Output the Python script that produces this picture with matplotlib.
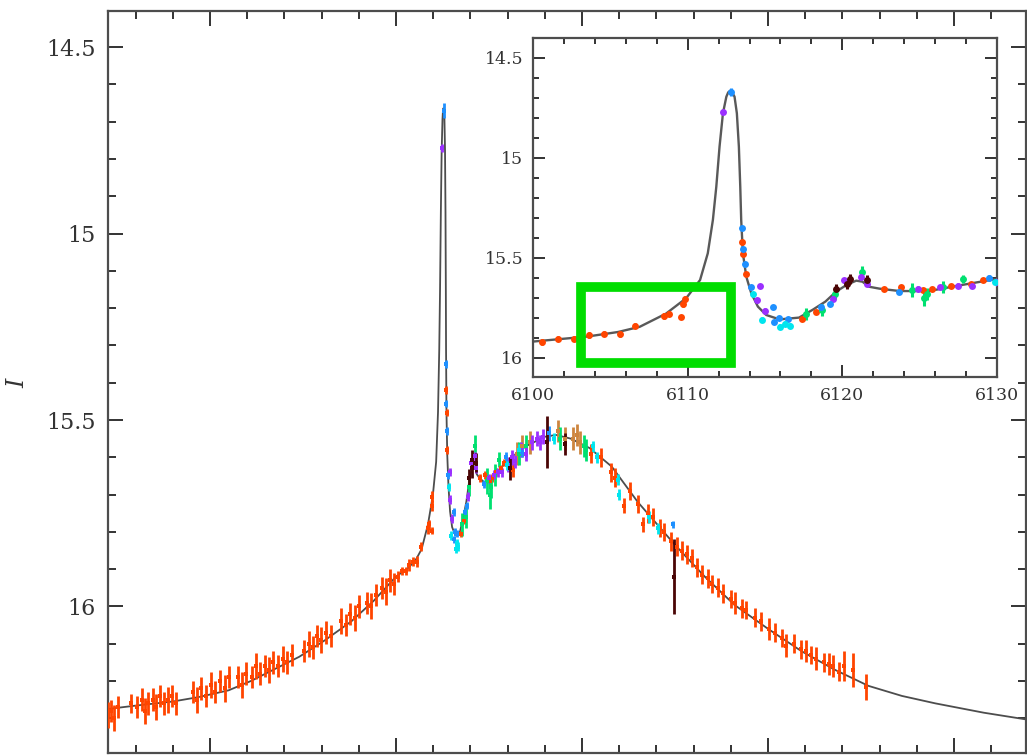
import numpy as np
import matplotlib.pyplot as plt
from matplotlib.ticker import MultipleLocator
from matplotlib.patches import Rectangle

plt.rcParams['font.family'] = 'DejaVu Serif'
plt.rcParams['mathtext.fontset'] = 'dejavuserif'

# model light curve (HJD-2450000, I mag)
model_t = [6022.6, 6030, 6040, 6047, 6055, 6061, 6067, 6074, 6081, 6088, 6094,
           6100, 6103.5, 6105.5, 6106.9, 6108.6, 6109.9, 6110.8, 6111.3, 6111.63,
           6111.85, 6112.06, 6112.28, 6112.5, 6112.62, 6112.75, 6112.88, 6113.03,
           6113.18, 6113.31, 6113.4, 6113.46, 6113.57, 6113.79, 6114.11, 6114.54,
           6115.08, 6115.94, 6117.2, 6118.1, 6118.9, 6119.6, 6120.3, 6120.9,
           6121.3, 6121.7, 6122.4, 6123.7, 6125.6, 6127.7, 6129.7, 6135, 6140,
           6143, 6147, 6152, 6158, 6165, 6175, 6183, 6191, 6200, 6209, 6218,
           6227, 6236, 6245, 6258, 6270]
model_mag = [16.275, 16.266, 16.255, 16.243, 16.225, 16.200, 16.170, 16.135, 16.090,
             16.040, 15.985, 15.920, 15.895, 15.872, 15.846, 15.780, 15.703, 15.612,
             15.478, 15.311, 15.145, 14.944, 14.777, 14.694, 14.672, 14.664, 14.672,
             14.694, 14.777, 14.944, 15.145, 15.311, 15.478, 15.595, 15.678, 15.745,
             15.787, 15.809, 15.800, 15.760, 15.720, 15.670, 15.635, 15.615, 15.620,
             15.645, 15.655, 15.667, 15.667, 15.637, 15.610, 15.570, 15.545, 15.540,
             15.550, 15.575, 15.625, 15.720, 15.835, 15.920, 15.996, 16.060, 16.120,
             16.170, 16.213, 16.240, 16.260, 16.285, 16.304]

orange_t = [6022.5, 6023.4, 6024.3, 6025.2, 6028.8, 6030.5, 6031.6, 6032.5, 6033.4,
            6034.6, 6035.5, 6036.7, 6037.6, 6038.8, 6039.9, 6041.0, 6045.4, 6046.5,
            6047.6, 6048.8, 6050.2, 6051.3, 6052.7, 6054.0, 6055.2, 6057.5, 6058.6,
            6059.7, 6061.2, 6062.3, 6063.5, 6064.8, 6065.9, 6067.0, 6068.3, 6069.6,
            6070.8, 6072.0, 6075.3, 6076.5, 6077.6, 6078.8, 6079.9, 6081.2, 6082.4,
            6085.3, 6086.5, 6087.7, 6088.9, 6090.1, 6092.2, 6093.3, 6094.6, 6096.2,
            6097.3, 6098.4, 6099.5, 6100.6, 6101.6, 6102.65, 6103.6, 6104.6, 6105.65,
            6106.6, 6108.5, 6108.8, 6109.6, 6109.7, 6109.8, 6113.5, 6113.6, 6113.8,
            6117.4, 6118.3, 6122.7, 6123.8, 6125.2, 6125.8, 6127.0, 6128.3, 6129.1,
            6131.5, 6152.3, 6155.0, 6157.8, 6159.0, 6161.3, 6163.0, 6165.0, 6166.4,
            6167.7, 6169.0, 6171.0, 6172.0, 6174.0, 6175.5, 6177.0, 6178.3, 6179.6,
            6181.0, 6182.3, 6184.0, 6185.0, 6186.5, 6188.0, 6190.0, 6191.0, 6193.0,
            6194.0, 6196.6, 6198.0, 6200.3, 6202.0, 6203.8, 6204.8, 6207.0, 6209.0,
            6210.2, 6211.5, 6213.0, 6215.0, 6216.3, 6217.5, 6219.0, 6220.5, 6222.8,
            6226.4]
orange_mag = [16.29, 16.28, 16.30, 16.27, 16.26, 16.27, 16.25, 16.28, 16.26,
              16.25, 16.27, 16.24, 16.26, 16.25, 16.24, 16.26, 16.23, 16.25,
              16.22, 16.24, 16.21, 16.23, 16.20, 16.22, 16.19, 16.19, 16.21,
              16.18, 16.19, 16.16, 16.18, 16.16, 16.17, 16.15, 16.16, 16.14,
              16.15, 16.13, 16.12, 16.10, 16.11, 16.08, 16.09, 16.07, 16.08,
              16.04, 16.05, 16.02, 16.03, 16.00, 15.99, 16.00, 15.97, 15.95,
              15.96, 15.93, 15.94, 15.92, 15.905, 15.905, 15.889, 15.88, 15.88,
              15.84, 15.79, 15.78, 15.797, 15.73, 15.706, 15.42, 15.48, 15.58,
              15.805, 15.77, 15.656, 15.647, 15.664, 15.656, 15.64, 15.63, 15.614,
              15.634, 15.59, 15.60, 15.64, 15.655, 15.73, 15.69, 15.725, 15.78,
              15.75, 15.76, 15.79, 15.80, 15.825, 15.84, 15.85, 15.86, 15.87,
              15.895, 15.915, 15.925, 15.94, 15.95, 15.965, 15.98, 15.99, 16.005,
              16.01, 16.03, 16.04, 16.06, 16.07, 16.085, 16.105, 16.10, 16.115,
              16.12, 16.13, 16.14, 16.15, 16.155, 16.16, 16.175, 16.16, 16.17,
              16.215]
orange_err = [0.035, 0.03, 0.035, 0.03, 0.025, 0.03, 0.03, 0.035, 0.03,
              0.03, 0.035, 0.03, 0.03, 0.035, 0.03, 0.03, 0.03, 0.035,
              0.03, 0.03, 0.035, 0.03, 0.03, 0.035, 0.03, 0.03, 0.035,
              0.03, 0.03, 0.035, 0.03, 0.03, 0.035, 0.03, 0.03, 0.035,
              0.03, 0.03, 0.03, 0.035, 0.03, 0.03, 0.035, 0.03, 0.03,
              0.035, 0.03, 0.03, 0.035, 0.03, 0.03, 0.035, 0.03, 0.03,
              0.035, 0.03, 0.03, 0.015, 0.012, 0.012, 0.015, 0.012, 0.015,
              0.012, 0.015, 0.012, 0.01, 0.015, 0.015, 0.01, 0.01, 0.01,
              0.01, 0.01, 0.01, 0.01, 0.01, 0.01, 0.01, 0.01, 0.01,
              0.02, 0.025, 0.025, 0.025, 0.025, 0.02, 0.025, 0.025, 0.02,
              0.025, 0.025, 0.025, 0.025, 0.025, 0.025, 0.025, 0.025, 0.025,
              0.025, 0.025, 0.025, 0.025, 0.025, 0.025, 0.025, 0.03, 0.025,
              0.025, 0.025, 0.025, 0.03, 0.025, 0.025, 0.03, 0.025, 0.025,
              0.03, 0.025, 0.03, 0.025, 0.03, 0.03, 0.025, 0.04, 0.045,
              0.035]

blue_t = [6112.8, 6113.5, 6113.57, 6113.73, 6114.08, 6115.5, 6115.6, 6115.9, 6116.5,
          6118.6, 6119.2, 6123.66, 6129.5, 6134.0, 6141.0, 6174.4]
blue_mag = [14.67, 15.35, 15.456, 15.53, 15.647, 15.747, 15.82, 15.80, 15.805,
            15.747, 15.73, 15.672, 15.60, 15.585, 15.535, 15.78]
blue_err = [0.02, 0.01, 0.01, 0.01, 0.01, 0.01, 0.01, 0.01, 0.01,
            0.01, 0.01, 0.01, 0.015, 0.015, 0.02, 0.01]

cyan_t = [6114.2, 6114.8, 6116.0, 6116.3, 6116.6, 6129.9, 6133.0, 6142.5, 6153.0,
          6154.0, 6159.6, 6160.0, 6168.0, 6170.4]
cyan_mag = [15.68, 15.81, 15.845, 15.83, 15.84, 15.622, 15.58, 15.55, 15.57,
            15.60, 15.66, 15.70, 15.76, 15.79]
cyan_err = [0.01, 0.012, 0.012, 0.012, 0.012, 0.012, 0.015, 0.015, 0.015,
            0.015, 0.015, 0.015, 0.015, 0.015]

purple_t = [6112.28, 6114.5, 6114.65, 6115.0, 6119.4, 6120.1, 6121.2, 6121.6, 6124.9,
            6126.3, 6127.5, 6128.4, 6130.0, 6131.2, 6132.0, 6133.5, 6135.0, 6136.5,
            6137.8, 6138.6, 6139.5]
purple_mag = [14.77, 15.714, 15.64, 15.765, 15.706, 15.614, 15.597, 15.63, 15.656,
              15.647, 15.64, 15.64, 15.62, 15.60, 15.61, 15.58, 15.59, 15.56,
              15.55, 15.56, 15.545]
purple_err = [0.01, 0.012, 0.01, 0.012, 0.012, 0.012, 0.012, 0.012, 0.012,
              0.012, 0.012, 0.012, 0.02, 0.02, 0.02, 0.02, 0.02, 0.02,
              0.02, 0.02, 0.02]

green_t = [6117.65, 6118.7, 6119.5, 6121.3, 6124.5, 6125.3, 6125.5, 6126.5, 6127.8,
           6133.0, 6135.0, 6144.0, 6150.5, 6151.0]
green_mag = [15.78, 15.76, 15.68, 15.57, 15.664, 15.70, 15.68, 15.647, 15.606,
             15.59, 15.57, 15.55, 15.57, 15.58]
green_err = [0.03, 0.03, 0.025, 0.03, 0.035, 0.04, 0.03, 0.03, 0.02,
             0.03, 0.03, 0.03, 0.03, 0.03]

dark_t = [6119.6, 6120.3, 6120.5, 6121.6, 6130.6, 6140.6, 6145.4, 6174.7]
dark_mag = [15.656, 15.63, 15.606, 15.614, 15.63, 15.56, 15.565, 15.92]
dark_err = [0.025, 0.025, 0.025, 0.025, 0.03, 0.07, 0.03, 0.10]

tan_t = [6132.5, 6134.0, 6136.0, 6143.5, 6145.5, 6147.6, 6148.7, 6149.5]
tan_mag = [15.59, 15.57, 15.56, 15.53, 15.55, 15.55, 15.54, 15.56]
tan_err = [0.03, 0.03, 0.03, 0.03, 0.03, 0.03, 0.03, 0.03]

datasets = [
    (orange_t, orange_mag, orange_err, '#ff4500'),
    (tan_t, tan_mag, tan_err, '#cd853f'),
    (green_t, green_mag, green_err, '#00e070'),
    (purple_t, purple_mag, purple_err, '#9b30ff'),
    (blue_t, blue_mag, blue_err, '#1e90ff'),
    (cyan_t, cyan_mag, cyan_err, '#00e5ee'),
    (dark_t, dark_mag, dark_err, '#4a0505'),
]

# zoom box drawn on the inset
box_t0, box_t1 = 6103.1, 6112.8
box_m0, box_m1 = 15.647, 16.027


def style_axes(ax, lsize, maj, mnr, pad):
    ax.tick_params(which='both', direction='in', top=True, right=True,
                   width=1.4, labelsize=lsize, pad=pad, colors='0.2')
    ax.tick_params(which='major', length=maj)
    ax.tick_params(which='minor', length=mnr)
    for s in ax.spines.values():
        s.set_linewidth(1.6)
        s.set_color('0.3')


fig = plt.figure(figsize=(10.27, 7.56), dpi=100)

# main panel
ax = fig.add_axes([0.1052, 0.004, 0.894, 0.9815])
ax.plot(model_t, model_mag, color='0.3', lw=1.3, zorder=2)
for t, m, e, c in datasets:
    ax.errorbar(t, m, yerr=e, fmt='s', ms=3.5, color=c, ecolor=c, elinewidth=2,
                capsize=0, mew=0, zorder=3)
ax.set_xlim(6022.6, 6269.4)
ax.set_ylim(16.393, 14.403)
ax.xaxis.set_major_locator(MultipleLocator(50))
ax.xaxis.set_minor_locator(MultipleLocator(10))
ax.yaxis.set_major_locator(MultipleLocator(0.5))
ax.yaxis.set_minor_locator(MultipleLocator(0.1))
ax.yaxis.set_major_formatter(plt.FuncFormatter(lambda v, p: f'{v:g}'))
style_axes(ax, 16, 11, 5.5, 9)
ax.tick_params(labelbottom=False)
ax.set_ylabel('$I$', fontsize=17, color='0.2')
ax.yaxis.set_label_coords(-0.086, 0.5)

# inset
axi = fig.add_axes([0.519, 0.5013, 0.4518, 0.4484])
axi.set_facecolor('white')
axi.plot(model_t, model_mag, color='0.35', lw=1.7, zorder=2)
for t, m, e, c in datasets:
    axi.errorbar(t, m, yerr=e, fmt='o', ms=5, color=c, ecolor=c, elinewidth=2.2,
                 capsize=0, mew=0, zorder=3)
axi.add_patch(Rectangle((box_t0, box_m0), box_t1 - box_t0, box_m1 - box_m0,
                        fill=False, edgecolor='#00dd00', lw=7, zorder=4))
axi.set_xlim(6100, 6130)
axi.set_ylim(16.0975, 14.4)
axi.xaxis.set_major_locator(MultipleLocator(10))
axi.xaxis.set_minor_locator(MultipleLocator(2))
axi.yaxis.set_major_locator(MultipleLocator(0.5))
axi.yaxis.set_minor_locator(MultipleLocator(0.1))
axi.yaxis.set_major_formatter(plt.FuncFormatter(lambda v, p: f'{v:g}'))
style_axes(axi, 12.5, 8.5, 4.3, 7)

fig.savefig('out.png', dpi=100)
